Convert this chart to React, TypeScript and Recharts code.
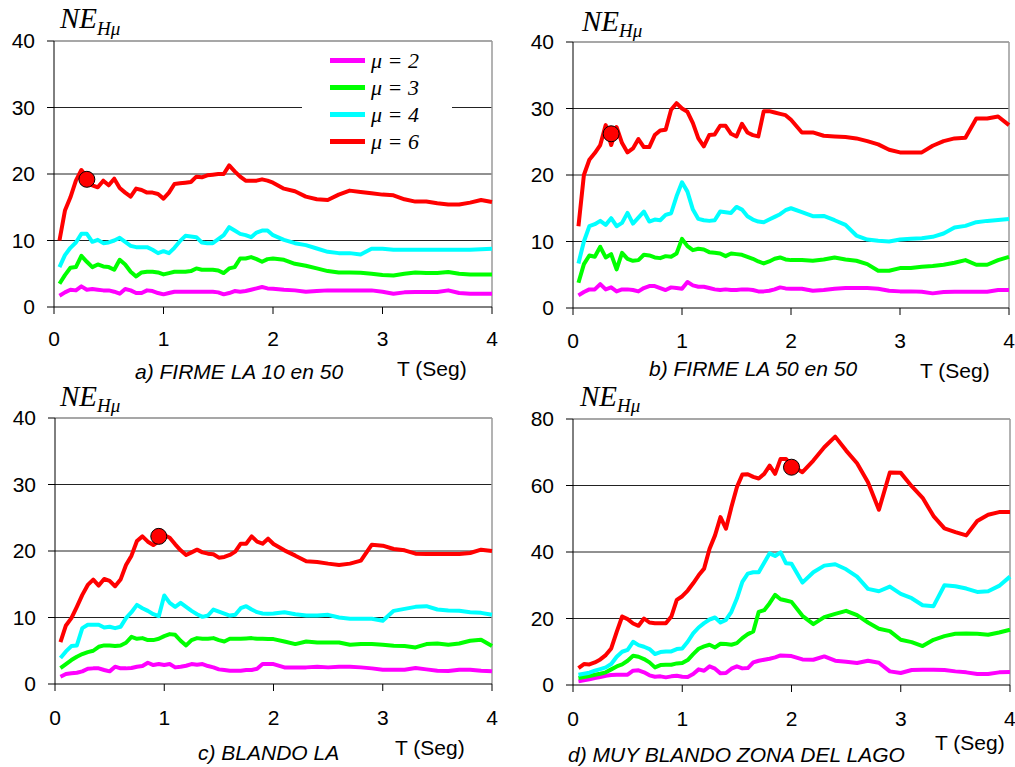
import React from 'react';
import { ComposedChart, Line, Scatter, XAxis, YAxis, ReferenceLine, Legend } from 'recharts';

// Periodo T (s)
const periods = [
  0.05, 0.1, 0.15, 0.2, 0.25, 0.3, 0.35, 0.4, 0.45, 0.5,
  0.55, 0.6, 0.65, 0.7, 0.75, 0.8, 0.85, 0.9, 0.95, 1.0,
  1.05, 1.1, 1.15, 1.2, 1.25, 1.3, 1.35, 1.4, 1.45, 1.5,
  1.55, 1.6, 1.65, 1.7, 1.75, 1.8, 1.85, 1.9, 1.95, 2.0,
  2.1, 2.2, 2.3, 2.4, 2.5, 2.6, 2.7, 2.8, 2.9, 3.0,
  3.1, 3.2, 3.3, 3.4, 3.5, 3.6, 3.7, 3.8, 3.9, 4.0,
];

// a) FIRME LA 10 en 50
const firme10Mu2 = [
  1.7, 2.2, 2.6, 2.5, 3.1, 2.6, 2.7, 2.6, 2.5, 2.5,
  2.3, 2.0, 2.7, 2.5, 2.1, 2.1, 2.5, 2.4, 2.1, 1.9,
  2.1, 2.3, 2.3, 2.3, 2.3, 2.3, 2.3, 2.3, 2.3, 2.2,
  1.9, 2.1, 2.4, 2.3, 2.4, 2.6, 2.8, 3.0, 2.8, 2.75,
  2.6, 2.5, 2.3, 2.4, 2.5, 2.5, 2.5, 2.5, 2.5, 2.3,
  2.0, 2.2, 2.25, 2.25, 2.25, 2.5, 2.1, 2.0, 2.0, 2.0,
];
const firme10Mu3 = [
  3.5, 4.8, 5.9, 6.0, 7.7, 6.8, 6.0, 6.4, 6.1, 6.0,
  5.6, 7.1, 6.4, 5.3, 4.6, 5.2, 5.3, 5.3, 5.2, 4.9,
  5.1, 5.3, 5.3, 5.3, 5.4, 5.8, 5.6, 5.6, 5.6, 5.5,
  5.1, 5.8, 6.0, 7.3, 7.3, 7.5, 7.2, 6.8, 7.2, 7.3,
  7.1, 6.5, 6.2, 5.8, 5.4, 5.2, 5.2, 5.15, 5.0, 4.8,
  4.75, 5.0, 5.2, 5.1, 5.1, 5.25, 5.0, 4.9, 4.9, 4.9,
];
const firme10Mu4 = [
  6.0, 7.8, 8.9, 9.7, 11.0, 11.0, 9.8, 10.1, 9.6, 9.7,
  10.0, 10.4, 9.8, 9.2, 9.0, 9.0, 9.0, 8.6, 8.1, 8.4,
  8.1, 8.9, 9.9, 10.7, 10.6, 10.5, 9.7, 9.6, 9.6, 10.2,
  10.8, 12.0, 11.5, 11.0, 10.8, 10.5, 11.2, 11.5, 11.5, 10.8,
  10.1, 9.6, 9.3, 8.8, 8.3, 8.1, 8.1, 7.9, 8.75, 8.75,
  8.6, 8.6, 8.6, 8.6, 8.6, 8.6, 8.6, 8.6, 8.7, 8.75,
];
const firme10Mu6 = [
  10, 14.5, 16.5, 19, 20.6, 19.5, 18.3, 18, 19, 18.3,
  19.3, 17.9, 17.2, 16.6, 17.8, 17.6, 17.2, 17.2, 17, 16.3,
  17.2, 18.5, 18.6, 18.7, 18.8, 19.6, 19.5, 19.8, 19.9, 20,
  20, 21.3, 20.4, 19.6, 19, 19, 19, 19.2, 19, 18.7,
  17.8, 17.4, 16.6, 16.2, 16.1, 16.9, 17.5, 17.3, 17.1, 16.9,
  16.8, 16.2, 15.85, 15.85, 15.6, 15.4, 15.4, 15.7, 16.1, 15.8,
];

// b) FIRME LA 50 en 50
const firme50Mu2 = [
  1.9, 2.4, 2.8, 2.8, 3.6, 2.8, 3.1, 2.5, 2.8, 2.8,
  2.7, 2.5, 3.0, 3.3, 3.3, 3.0, 2.7, 3.1, 3.0, 2.9,
  3.9, 3.4, 3.2, 3.2, 3.0, 2.8, 2.7, 2.8, 2.7, 2.7,
  2.8, 2.8, 2.7, 2.5, 2.5, 2.6, 2.8, 3.1, 2.95, 2.9,
  2.9, 2.6, 2.7, 2.9, 3.0, 3.0, 3.0, 2.9, 2.6, 2.5,
  2.5, 2.45, 2.2, 2.4, 2.45, 2.45, 2.45, 2.45, 2.7, 2.7,
];
const firme50Mu3 = [
  3.8, 6.6, 7.9, 7.7, 9.2, 7.6, 8.1, 5.8, 8.3, 7.4,
  7.1, 7.2, 8.0, 7.9, 7.6, 7.5, 7.8, 7.7, 8.2, 10.4,
  9.3, 8.7, 8.9, 8.8, 8.4, 8.3, 8.2, 7.8, 8.2, 8.1,
  8.0, 7.7, 7.4, 7.0, 6.7, 7.0, 7.4, 7.6, 7.3, 7.2,
  7.2, 7.1, 7.3, 7.6, 7.3, 7.1, 6.6, 5.6, 5.6, 6.0,
  6.0, 6.2, 6.3, 6.5, 6.8, 7.2, 6.5, 6.5, 7.2, 7.7,
];
const firme50Mu4 = [
  6.7, 10, 12.3, 12.6, 13.1, 12.5, 13.5, 12.3, 12.8, 14.3,
  12.7, 13.6, 14.5, 13.0, 13.3, 13.2, 14.0, 14.25, 16.8, 18.9,
  17.5, 14.8, 13.4, 13.2, 13.1, 13.2, 14.5, 14.4, 14.3, 15.2,
  14.8, 13.8, 13.3, 13.0, 12.9, 13.3, 13.7, 14.1, 14.7, 15.0,
  14.4, 13.8, 13.85, 13.2, 12.5, 10.9, 10.3, 10.1, 10.0, 10.3,
  10.4, 10.5, 10.7, 11.2, 12.1, 12.35, 12.9, 13.1, 13.25, 13.4,
];
const firme50Mu6 = [
  12.3, 20, 22.3, 23.3, 24.5, 27.5, 24.5, 27.2, 24.8, 23.4,
  24, 25.4, 24.2, 24.2, 26, 26.7, 26.8, 29.8, 30.8, 30,
  29.5, 27.8, 25.5, 24.3, 26, 26.1, 27.4, 27.4, 26.2, 25.8,
  27.7, 26.4, 26, 25.8, 29.6, 29.6, 29.4, 29.2, 29, 28.3,
  26.4, 26.4, 25.9, 25.8, 25.7, 25.5, 25.1, 24.6, 23.8, 23.4,
  23.4, 23.4, 24.4, 25.1, 25.5, 25.6, 28.5, 28.5, 28.8, 27.5,
];

// c) BLANDO LA
const blandoMu2 = [
  1.1, 1.5, 1.6, 1.7, 1.9, 2.3, 2.35, 2.35, 2.1, 1.9,
  2.6, 2.35, 2.35, 2.4, 2.6, 2.7, 3.2, 2.85, 3.0, 2.85,
  3.0, 2.5, 2.6, 2.75, 3.0, 2.9, 3.0, 2.7, 2.5, 2.2,
  2.1, 2.0, 2.0, 2.0, 2.1, 2.1, 2.3, 3.0, 3.0, 3.0,
  2.5, 2.5, 2.5, 2.6, 2.5, 2.6, 2.6, 2.5, 2.35, 2.15,
  2.15, 2.15, 2.4, 2.2, 2.0, 1.95, 2.15, 2.15, 2.0, 1.9,
];
const blandoMu3 = [
  2.4, 3.0, 3.6, 4.1, 4.5, 4.8, 5.0, 5.6, 5.8, 5.8,
  5.7, 5.8, 6.2, 7.1, 6.8, 6.9, 6.6, 6.6, 6.8, 7.2,
  7.5, 7.4, 6.5, 5.8, 6.6, 6.9, 6.8, 6.8, 6.9, 6.6,
  6.4, 6.8, 6.8, 6.8, 6.85, 6.9, 6.8, 6.8, 6.75, 6.75,
  6.4, 6.0, 6.4, 6.25, 6.25, 6.25, 5.9, 6.0, 6.0, 5.9,
  5.75, 5.7, 5.5, 6.0, 6.1, 5.9, 6.1, 6.5, 6.65, 5.7,
];
const blandoMu4 = [
  3.9, 4.9, 5.7, 5.8, 8.4, 8.9, 8.9, 8.9, 8.5, 8.6,
  8.4, 8.6, 9.9, 10.8, 11.9, 11.4, 11.0, 10.5, 10.2, 13.3,
  12.2, 11.6, 12.2, 11.6, 11.0, 10.5, 10.1, 10.3, 11.2, 10.9,
  10.6, 10.3, 10.4, 11.4, 11.7, 11.2, 10.8, 10.6, 10.55, 10.6,
  10.8, 10.5, 10.3, 10.3, 10.4, 10.0, 9.8, 9.8, 9.8, 9.5,
  11.0, 11.3, 11.6, 11.7, 11.2, 11.05, 11.0, 10.8, 10.7, 10.4,
];
const blandoMu6 = [
  6.3, 8.8, 9.9, 11.6, 13.4, 14.9, 15.7, 14.8, 15.8, 15.5,
  14.7, 15.7, 17.9, 19.3, 21.5, 22.2, 21.4, 20.9, 21.5, 22.4,
  22, 21, 20.1, 19.4, 19.8, 20.2, 19.8, 19.6, 19.5, 19,
  19.1, 19.4, 19.9, 21.1, 21.1, 22.2, 21.4, 21.1, 21.85, 21.05,
  20.1, 19.3, 18.45, 18.35, 18.1, 17.9, 18.1, 18.55, 20.95, 20.8,
  20.3, 20.1, 19.6, 19.55, 19.55, 19.55, 19.55, 19.7, 20.2, 20,
];

// d) MUY BLANDO ZONA DEL LAGO
const lagoMu2 = [
  1.1, 1.4, 1.7, 2.1, 2.4, 2.8, 3.0, 3.1, 3.1, 3.1,
  4.3, 4.4, 3.8, 2.9, 2.5, 2.6, 2.3, 2.6, 2.8, 2.5,
  2.4, 3.3, 4.7, 4.3, 5.6, 4.9, 3.5, 3.6, 4.9, 5.6,
  5.0, 5.1, 6.8, 7.3, 7.6, 7.9, 8.3, 8.9, 8.8, 8.7,
  7.7, 7.6, 8.6, 7.3, 7.0, 6.6, 7.3, 6.7, 4.1, 3.6,
  4.5, 4.6, 4.6, 4.5, 4.1, 3.8, 3.3, 3.3, 3.8, 3.9,
];
const lagoMu3 = [
  2.1, 2.4, 2.7, 3.1, 3.4, 3.8, 4.7, 5.6, 6.2, 7.3,
  8.8, 8.5, 7.8, 6.8, 5.3, 6.0, 6.1, 6.1, 6.5, 6.6,
  7.5, 9.3, 10.9, 11.6, 12.1, 11.3, 12.4, 12.3, 12.1, 12.6,
  14.1, 15.3, 16.1, 22.0, 22.5, 24.6, 27.1, 25.8, 25.4, 25.0,
  20.8, 18.3, 20.4, 21.4, 22.3, 21.0, 18.8, 16.9, 16.2, 13.6,
  12.9, 11.7, 13.6, 14.7, 15.4, 15.5, 15.4, 15.1, 15.8, 16.6,
];
const lagoMu4 = [
  3.1, 3.4, 3.7, 4.3, 4.8, 5.3, 6.3, 8.5, 10, 10.6,
  13, 12, 11.5, 10.8, 9.3, 9.9, 10.1, 10.1, 10.8, 11,
  13, 15.5, 17.3, 18.6, 19.7, 20.3, 18.8, 19.6, 22, 26,
  31, 33.5, 33.9, 33.9, 36.8, 39.6, 38.8, 39.9, 36.6, 36.5,
  30.8, 33.9, 35.9, 36.3, 34.8, 32.6, 28.9, 28.2, 29.6, 27.4,
  26.1, 24, 23.7, 30, 29.7, 29, 28, 28.2, 29.8, 32.6,
];
const lagoMu6 = [
  5.1, 6.3, 6.2, 6.8, 7.7, 9, 11, 16, 20.6, 19.8,
  18.5, 17.8, 20, 18.8, 18.6, 18.6, 18.6, 20.6, 25.6, 26.7,
  28.4, 30.6, 33, 35, 41, 45, 50.5, 47, 53.5, 59.5,
  63.3, 63.4, 62.6, 62.1, 63.5, 66, 63.5, 68, 68, 66,
  64, 67.5, 71.5, 74.7, 70.5, 66.7, 61, 52.7, 63.9, 63.8,
  59.8, 56.3, 50.8, 47.1, 46, 45, 49.3, 51.2, 52, 52,
];

// punto marcado sobre la curva mu = 6 (T, NE)
const firme10Peak = [0.3, 19.2];
const firme50Peak = [0.35, 26.2];
const blandoPeak = [0.95, 22.2];
const lagoPeak = [2.0, 65.5];

const xTicks = [0, 1, 2, 3, 4];
const yTicks40 = [0, 10, 20, 30, 40];
const yTicks80 = [0, 20, 40, 60, 80];

const series = [
  { key: 'mu2', name: 'μ = 2', color: '#FF00FF' },
  { key: 'mu3', name: 'μ = 3', color: '#00FF00' },
  { key: 'mu4', name: 'μ = 4', color: '#00FFFF' },
  { key: 'mu6', name: 'μ = 6', color: '#FF0000' },
];

function buildRows(mu2: number[], mu3: number[], mu4: number[], mu6: number[]) {
  return periods.map((t, i) => ({ t, mu2: mu2[i], mu3: mu3[i], mu4: mu4[i], mu6: mu6[i] }));
}

const SANS = '"Liberation Sans", Arial, sans-serif';
const SERIF = '"Liberation Serif", "Times New Roman", serif';
const Y_AXIS_W = 40;
const X_AXIS_H = 30;

const panels = [
  {
    id: 'a', left: 0, top: 0, width: 505, height: 385,
    margin: { top: 41, right: 13, bottom: 78 - X_AXIS_H, left: 54 - Y_AXIS_W },
    rows: buildRows(firme10Mu2, firme10Mu3, firme10Mu4, firme10Mu6),
    yTicks: yTicks40, peak: firme10Peak, xTickMargin: 17, legend: true,
  },
  {
    id: 'b', left: 505, top: 0, width: 510, height: 385,
    margin: { top: 42, right: 6, bottom: 77 - X_AXIS_H, left: 68 - Y_AXIS_W },
    rows: buildRows(firme50Mu2, firme50Mu3, firme50Mu4, firme50Mu6),
    yTicks: yTicks40, peak: firme50Peak, xTickMargin: 18, legend: false,
  },
  {
    id: 'c', left: 0, top: 385, width: 505, height: 382,
    margin: { top: 33, right: 13, bottom: 83 - X_AXIS_H, left: 55 - Y_AXIS_W },
    rows: buildRows(blandoMu2, blandoMu3, blandoMu4, blandoMu6),
    yTicks: yTicks40, peak: blandoPeak, xTickMargin: 19, legend: false,
  },
  {
    id: 'd', left: 505, top: 385, width: 510, height: 382,
    margin: { top: 34, right: 5, bottom: 82 - X_AXIS_H, left: 68 - Y_AXIS_W },
    rows: buildRows(lagoMu2, lagoMu3, lagoMu4, lagoMu6),
    yTicks: yTicks80, peak: lagoPeak, xTickMargin: 19, legend: false,
  },
];

// etiquetas de cada panel: eje Y, subtitulo y eje X
const captions = [
  { ne: [60, 28], sub: [135, 378.5, 'a) FIRME LA 10 en 50'], tx: [397, 376] },
  { ne: [582, 30.5], sub: [649, 375.5, 'b) FIRME LA 50 en 50'], tx: [920, 377.5] },
  { ne: [60, 405.5], sub: [198, 760, 'c) BLANDO LA'], tx: [395, 755] },
  { ne: [580, 405.5], sub: [568, 761.5, 'd) MUY BLANDO ZONA DEL LAGO'], tx: [935, 750] },
];

function MuLegend(props: any) {
  const items = (props.payload || []).filter((it: any) => it.type !== 'none');
  return (
    <div style={{ background: '#fff', width: 150, height: 110, paddingTop: 1, boxSizing: 'border-box' }}>
      {items.map((it: any) => (
        <div key={it.value} style={{ display: 'flex', alignItems: 'center', height: 27 }}>
          <div style={{ marginLeft: 28, width: 35, height: 5, background: it.color }} />
          <span style={{ marginLeft: 6, fontFamily: SERIF, fontStyle: 'italic', fontSize: 22, lineHeight: '27px', color: '#000' }}>
            {it.value}
          </span>
        </div>
      ))}
    </div>
  );
}

const PeakDot = (props: any) => (
  <circle cx={props.cx} cy={props.cy} r={8} fill="#FF0000" stroke="#000" strokeWidth={1} />
);

function Panel({ p }: { p: typeof panels[number] }) {
  const yMax = p.yTicks[p.yTicks.length - 1];
  const inner = p.yTicks.slice(1, -1);
  const peakData = [{ t: p.peak[0], v: p.peak[1] }];
  return (
    <div style={{ position: 'absolute', left: p.left, top: p.top }}>
      <ComposedChart width={p.width} height={p.height} data={p.rows} margin={p.margin}>
        <XAxis
          type="number" dataKey="t" domain={[0, 4]} ticks={xTicks} height={X_AXIS_H}
          stroke="#000" tickSize={7} tickMargin={p.xTickMargin}
          tick={{ fill: '#000', fontSize: 21, fontFamily: SANS }}
        />
        <YAxis
          type="number" domain={[0, yMax]} ticks={p.yTicks} width={Y_AXIS_W}
          stroke="#000" tickSize={7} tickMargin={12}
          tick={{ fill: '#000', fontSize: 21, fontFamily: SANS }}
        />
        {inner.map((v) => (
          <ReferenceLine key={v} y={v} stroke="#222" strokeWidth={1} />
        ))}
        <ReferenceLine y={yMax} stroke="#8a8a8a" strokeWidth={1.5} />
        <ReferenceLine x={4} stroke="#9a9a9a" strokeWidth={1.5} />
        {p.legend && (
          <Legend
            layout="vertical" align="center" verticalAlign="middle"
            content={<MuLegend />}
            wrapperStyle={{ position: 'absolute', left: 302, top: 46, width: 150, height: 110 }}
          />
        )}
        {series.map((s) => (
          <Line
            key={s.key} dataKey={s.key} name={s.name} type="linear"
            stroke={s.color} strokeWidth={4} dot={false}
            strokeLinejoin="round" isAnimationActive={false}
          />
        ))}
        <Scatter
          data={peakData} dataKey="v" legendType="none"
          shape={PeakDot} isAnimationActive={false}
        />
      </ComposedChart>
    </div>
  );
}

export default function App() {
  return (
    <div style={{ position: 'absolute', left: 0, top: 0, width: 1015, height: 767, background: '#fff', overflow: 'hidden' }}>
      {panels.map((p) => (
        <Panel key={p.id} p={p} />
      ))}
      <svg width={1015} height={767} style={{ position: 'absolute', left: 0, top: 0, pointerEvents: 'none' }}>
        {captions.map((c, i) => (
          <g key={i}>
            <text x={c.ne[0]} y={c.ne[1]} fontFamily={SERIF} fontStyle="italic" fontSize={29} fill="#000">
              NE<tspan fontSize={19} dy={6.5}>Hμ</tspan>
            </text>
            <text x={c.sub[0] as number} y={c.sub[1] as number} fontFamily={SANS} fontStyle="italic" fontSize={21} fill="#000">
              {c.sub[2]}
            </text>
            <text x={c.tx[0]} y={c.tx[1]} fontFamily={SANS} fontSize={21} fill="#000">
              T (Seg)
            </text>
          </g>
        ))}
      </svg>
    </div>
  );
}
